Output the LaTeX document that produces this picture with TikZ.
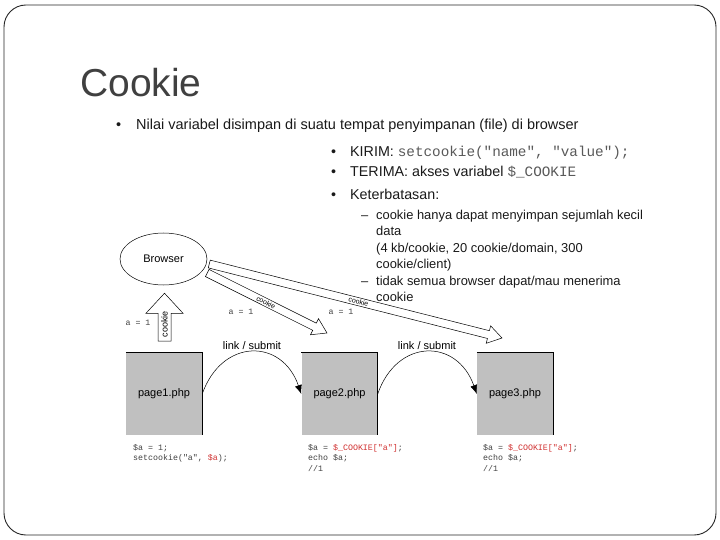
\documentclass[tikz,border=0pt]{standalone}
\usepackage{fontspec}
\setmainfont{Liberation Sans}
\newfontfamily\monof{Liberation Mono}
\usetikzlibrary{shapes.geometric,calc,arrows.meta}
\definecolor{codered}{HTML}{D03030}
\definecolor{boxgray}{HTML}{C0C0C0}
\definecolor{titlegray}{HTML}{404040}
\definecolor{codegray}{HTML}{404040}
\newcommand\hollowarrow[5]{%
  \path (#1) coordinate (has) (#2) coordinate (hae);
  \path ($(hae)!#5!(has)$) coordinate (hah);
  \draw[hollow] ($(has)!#3!90:(hae)$) -- ($(hah)!#3!90:(hae)$) -- ($(hah)!#4!90:(hae)$) -- (hae)
    -- ($(hah)!#4!-90:(hae)$) -- ($(hah)!#3!-90:(hae)$) -- ($(has)!#3!-90:(hae)$) -- cycle;}
\tikzset{
  hollow/.style={draw=black, line width=0.5pt, fill=white},
  lvlone/.style={anchor=base west, inner sep=0pt, font=\fontsize{14.5}{17}\selectfont, text=black!90},
  lvltwo/.style={anchor=base west, inner sep=0pt, font=\fontsize{14.3}{17}\selectfont, text=black!90},
  lvlthree/.style={anchor=base west, inner sep=0pt, font=\fontsize{12.9}{15}\selectfont, text=black!90},
  codeline/.style={anchor=base west, inner sep=0pt, font=\monof\fontsize{8.3}{10}\selectfont, text=codegray},
  pagebox/.style={fill=boxgray, minimum width=76pt, minimum height=82pt, inner sep=0pt, font=\fontsize{11}{13}\selectfont},
  link/.style={-{Latex[length=9pt,width=7pt]}, line width=0.5pt},
  small/.style={inner sep=0pt, font=\fontsize{11}{13}\selectfont},
}
\begin{document}
\begin{tikzpicture}[x=1pt,y=-1pt]
\useasboundingbox (0,0) rectangle (720,540);
\draw[rounded corners=22pt, line width=0.9pt, black!85] (4,5) rectangle (716,535);
\node[anchor=base west, inner sep=0pt, font=\fontsize{39}{44}\selectfont, text=titlegray] (title) at (80,97) {Cookie};
% level one
\node[lvlone] (bu1) at (116,130) {•};
\node[lvlone] (t1) at (136,130) {Nilai variabel disimpan di suatu tempat penyimpanan (file) di browser};
% level two
\node[lvltwo] (bu2) at (331,157) {•};
\node[lvltwo] (t2) at (350,157) {KIRIM: {\monof\color{black!65}setcookie("name", "value");}};
\node[lvltwo] (bu3) at (331,177) {•};
\node[lvltwo] (t3) at (350,177) {TERIMA: akses variabel {\monof\color{black!65}\$\_COOKIE}};
\node[lvltwo] (bu4) at (331,200) {•};
\node[lvltwo] (t4) at (350,200) {Keterbatasan:};
% level three
\node[lvlthree] (d1) at (361,220) {–};
\node[lvlthree] (t5) at (376,220) {cookie hanya dapat menyimpan sejumlah kecil};
\node[lvlthree] (t6) at (376,236) {data};
\node[lvlthree] (t7) at (376,252) {(4 kb/cookie, 20 cookie/domain, 300};
\node[lvlthree] (t8) at (376,268) {cookie/client)};
\node[lvlthree] (d2) at (361,285) {–};
\node[lvlthree] (t9) at (376,285) {tidak semua browser dapat/mau menerima};
\node[lvlthree] (t10) at (376,301) {cookie};
% browser
\node[ellipse, draw, line width=0.5pt, minimum width=87pt, minimum height=52pt, inner sep=0pt, font=\fontsize{11}{13}\selectfont] (browser) at (163.5,259) {Browser};
% pages
\node[pagebox] (p1) at (164,394) {page1.php};
\node[pagebox] (p2) at (339.5,394) {page2.php};
\node[pagebox] (p3) at (515,394) {page3.php};
\foreach \p in {p1,p2,p3}{\draw[line width=0.8pt] (\p.north west) -- (\p.north east) -- (\p.south east);}
% hollow arrows
\coordinate (ua) at ($(browser.east)+(2,5)$);
\coordinate (ue) at (502,338);
\coordinate (la) at ($(browser.east)+(0,14)$);
\coordinate (le) at (327,333);
\hollowarrow{ua}{ue}{4pt}{9pt}{14pt}
\hollowarrow{la}{le}{4pt}{9pt}{14pt}
\path (ua) -- (ue) node[pos=0.51, sloped, inner sep=0pt, font=\fontsize{7}{8}\selectfont] (ck2) {cookie};
\path (la) -- (le) node[pos=0.49, sloped, inner sep=0pt, font=\fontsize{7}{8}\selectfont] (ck1) {cookie};
% up arrow
\coordinate (upb) at (164.5,341);
\coordinate (upt) at ($(browser.south)+(1,8)$);
\hollowarrow{upb}{upt}{6.5pt}{18.5pt}{20pt}
\node[rotate=90, inner sep=0pt, font=\fontsize{9}{10}\selectfont] (ck0) at (164.5,324) {cookie};
% a = 1 labels
\node[codeline, anchor=center] (a0) at (138,323) {a = 1};
\node[codeline, anchor=center] (a1) at (241,312) {a = 1};
\node[codeline, anchor=center] (a2) at (341,312) {a = 1};
% links
\draw[link] (p1.east) .. controls (222,338) and (282,338) .. (p2.west);
\draw[link] (p2.east) .. controls (397,338) and (457,338) .. (p3.west);
\node[small] (l1) at (252,346) {link / submit};
\node[small] (l2) at (427,346) {link / submit};
% code
\node[codeline] (c1a) at (133,450) {\$a = 1;};
\node[codeline] (c1b) at (133,460.5) {setcookie("a", {\color{codered}\$a});};
\node[codeline] (c2a) at (308,450) {\$a = {\color{codered}\$\_COOKIE["a"]};};
\node[codeline] (c2b) at (308,460.5) {echo \$a;};
\node[codeline] (c2c) at (308,471) {//1};
\node[codeline] (c3a) at (483,450) {\$a = {\color{codered}\$\_COOKIE["a"]};};
\node[codeline] (c3b) at (483,460.5) {echo \$a;};
\node[codeline] (c3c) at (483,471) {//1};
\end{tikzpicture}
\end{document}
